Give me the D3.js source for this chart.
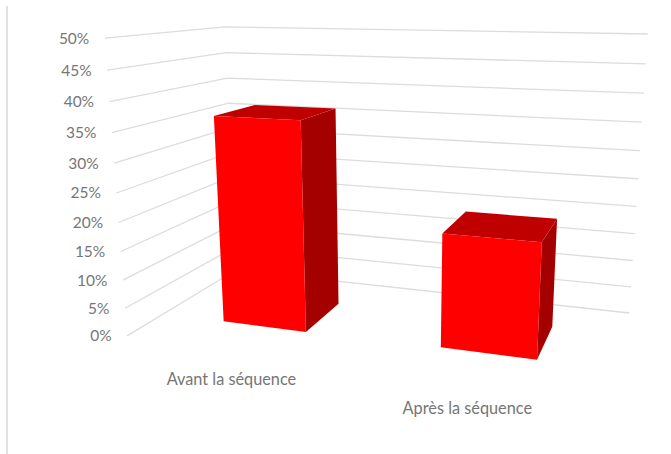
<!DOCTYPE html><html><head><meta charset="utf-8"><script src="https://cdn.jsdelivr.net/npm/d3@7"></script>
<style>html,body{margin:0;background:#fff}svg{display:block}text{font-family:Lato,"Open Sans",sans-serif}</style></head><body><svg id="c" width="671" height="454"></svg><script>
// Data
const categories=["Avant la séquence","Après la séquence"];
const values=[36.7,19.5];
const tickValues=[0,5,10,15,20,25,30,35,40,45,50];

// Calibration of the 3D box: [u (along categories), w (depth), v (value), screen x, screen y]
const cal=[[0,0,0,126,336],[0,0,1,106,38],[0,1,0,237,270],[0,1,1,224,27],[1,1,0,629,313],[1,1,1,648,34]];
function solve(A,b){const n=b.length;const M=A.map((r,i)=>[...r,b[i]]);for(let i=0;i<n;i++){let p=i;for(let k=i+1;k<n;k++)if(Math.abs(M[k][i])>Math.abs(M[p][i]))p=k;[M[i],M[p]]=[M[p],M[i]];for(let k=0;k<n;k++)if(k!==i){const f=M[k][i]/M[i][i];for(let j=i;j<=n;j++)M[k][j]-=f*M[i][j];}}return M.map((r,i)=>r[n]/r[i]);}
const rows=[],rhs=[];cal.forEach(([u,w,v,x,y])=>{x/=100;y/=100;rows.push([u,w,v,1,0,0,0,0,-x*u,-x*w,-x*v]);rhs.push(x);rows.push([0,0,0,0,u,w,v,1,-y*u,-y*w,-y*v]);rhs.push(y);});
const AtA=d3.range(11).map(i=>d3.range(11).map(j=>d3.sum(rows,r=>r[i]*r[j])));const Atb=d3.range(11).map(i=>d3.sum(rows,(r,k)=>r[i]*rhs[k]));
const p=solve(AtA,Atb);
const P=(u,w,v)=>{const d=p[8]*u+p[9]*w+p[10]*v+1;return[100*(p[0]*u+p[1]*w+p[2]*v+p[3])/d,100*(p[4]*u+p[5]*w+p[6]*v+p[7])/d];};

// Scales
const yV=d3.scaleLinear().domain([0,50]).range([0,1]);
const xU=d3.scaleBand().domain(categories).range([0.003,0.997]).paddingInner(0.6).paddingOuter(0.3);
const depthFront=[0.295,0.316],depthBack=[0.682,0.708];
const labelU=[0.064,0.021],labelW=[-0.256,-0.211];

const svg=d3.select("#c");
const line=d3.line();

// Outer left rule
svg.append("line").attr("x1",7).attr("x2",7).attr("y1",6).attr("y2",454).attr("stroke","#d9d9d9").attr("stroke-width",1.5);

// Gridlines: front-left -> back corner -> back-right
svg.append("g").selectAll("path").data(tickValues).join("path")
  .attr("fill","none").attr("stroke","#dcdcdc").attr("stroke-width",1.3)
  .attr("d",t=>{const v=yV(t);return line([P(0,0,v),P(0,1,v),P(1,1,v)]);});

// Tick labels
svg.append("g").selectAll("text").data(tickValues).join("text")
  .attr("x",t=>P(0,0,yV(t))[0]-15.5).attr("y",t=>P(0,0,yV(t))[1]+5.5)
  .attr("text-anchor","end").attr("font-size",15.5).attr("fill","#767676")
  .text(t=>t+"%");

// Bars
const bars=svg.append("g").selectAll("g").data(categories).join("g");
const face=(pts,fill)=>function(d,i){
  const u0=xU(d),u1=u0+xU.bandwidth(),v=yV(values[i]);
  d3.select(this).append("path").attr("fill",fill).attr("d",line(pts(u0,u1,v,depthFront[i],depthBack[i]).map(a=>P(...a)))+"Z");
};
bars.each(face((u0,u1,v,f,b)=>[[u1,f,0],[u1,b,0],[u1,b,v],[u1,f,v]],"#a50000"));
bars.each(face((u0,u1,v,f,b)=>[[u0,f,v],[u1,f,v],[u1,b,v],[u0,b,v]],"#c00000"));
bars.each(face((u0,u1,v,f,b)=>[[u0,f,0],[u1,f,0],[u1,f,v],[u0,f,v]],"#ff0000"));

// Category labels
svg.append("g").selectAll("text").data(categories).join("text")
  .attr("x",(d,i)=>P(xU(d)+xU.bandwidth()/2+labelU[i],labelW[i],0)[0])
  .attr("y",(d,i)=>P(xU(d)+xU.bandwidth()/2+labelU[i],labelW[i],0)[1]+5.5)
  .attr("text-anchor","middle").attr("font-size",16.3).attr("fill","#767676")
  .text(d=>d);
</script></body></html>
